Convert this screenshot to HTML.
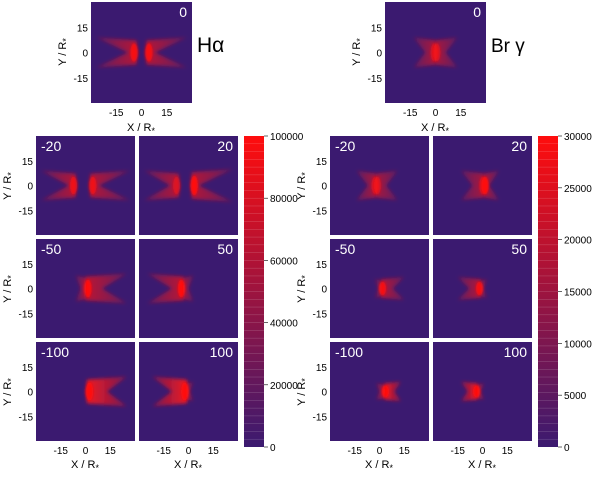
<!DOCTYPE html>
<html><head><meta charset="utf-8"><style>
html,body{margin:0;padding:0;background:#fff;width:600px;height:480px;overflow:hidden}
svg text{font-family:"Liberation Sans",sans-serif;}
</style></head><body>
<svg id="fig" width="600" height="480" xmlns="http://www.w3.org/2000/svg">
<defs id="defs">
<filter id="b3" x="-50%" y="-50%" width="200%" height="200%"><feGaussianBlur stdDeviation="1.8"/></filter>
<filter id="b1" x="-50%" y="-50%" width="200%" height="200%"><feGaussianBlur stdDeviation="1.1"/></filter>
<linearGradient id="cb" x1="0" y1="1" x2="0" y2="0">
<stop offset="0" stop-color="#3b1a70"/><stop offset="1" stop-color="#ff0d0d"/></linearGradient>
</defs>
</svg>
<script>
const NS='http://www.w3.org/2000/svg';
const svg=document.getElementById('fig');
const defs=document.getElementById('defs');
// data
const haVelocities=[0,-20,20,-50,50,-100,100];
const brVelocities=[0,-20,20,-50,50,-100,100];
const haColorTicks=[0,20000,40000,60000,80000,100000];
const brColorTicks=[0,5000,10000,15000,20000,25000,30000];
const axisTicks=[-15,0,15];
// emission lobes per panel: [baseX, tipX, notchX, halfHeight, fillIntensity, edgeIntensity]
const haShapes=[
 [[-3,-27,-8,9,0.6,0.9],[3,27,8,9,0.6,0.9]],
 [[-6,-27,-10,9,0.6,0.8],[3,27,8,9,0.6,0.8]],
 [[-6,-27,-11,9,0.6,0.6],[2,27,6,10,0.6,1]],
 [[0,25,10,9,0.65,1],[0,-6,-3,8,0.5,0]],
 [[-3,-25,-10,9,0.65,1],[-3,3,0,8,0.5,0]],
 [[1,25,13,9,0.9,1]],
 [[-1,-22,-10,9,0.9,1],[-1,3,1,6,0.5,0]]];
const brShapes=[
 [[0,-13,-6,9,0.55,0.6],[0,13,6,9,0.55,0.6]],
 [[-2,-14,-7,9,0.55,0.6],[-2,11,4,9,0.55,0.6]],
 [[1,-13,-6,9,0.55,0.6],[1,10,4,9,0.55,1]],
 [[1,15,8,7,0.6,0.9],[1,-3,-1,6,0.4,0]],
 [[-1,-15,-8,7,0.6,0.9],[-1,3,1,6,0.4,0]],
 [[3,13,9,6,0.9,1],[3,-2,0,5,0.6,0]],
 [[-3,-13,-9,6,0.9,1],[-3,1,-1,5,0.6,0]]];
const BG='#3b1a70';
let gid=0;
function el(t,a,p){const e=document.createElementNS(NS,t);for(const k in a)e.setAttribute(k,a[k]);(p||svg).appendChild(e);return e;}
function txt(x,y,s,a,p){const e=el('text',Object.assign({x:x,y:y,'font-size':11,fill:'#000'},a||{}),p);e.textContent=s;return e;}
function panel(x,y,w,h,vel,shapes,name){
  const g=el('g',{});
  
  
  const sx=v=>x+w/2+v*w/60, sy=v=>y+h/2-v*h/60;
  const cid='c'+name;
  const cp=el('clipPath',{id:cid},g);el('rect',{x:x,y:y,width:w,height:h},cp);
  el('rect',{x:x,y:y,width:w,height:h,fill:BG},g);
  const inner=el('g',{'clip-path':'url(#'+cid+')'},g);
  shapes.forEach(s=>{
    const [x0,x1,nx,H,I,E]=s;
    const id='lg'+(gid++);
    const lg=el('linearGradient',{id:id,gradientUnits:'userSpaceOnUse',x1:sx(x0),y1:0,x2:sx(x1),y2:0},defs);
    el('stop',{offset:0,'stop-color':'#ff1818','stop-opacity':I},lg);
    el('stop',{offset:1,'stop-color':'#ff1818','stop-opacity':I*0.35},lg);
    const pts=[[x0,H*0.8],[x1,H],[nx,0],[x1,-H],[x0,-H*0.8],[x0-(x1-x0)*0.04,0]];
    const lobe=el('polygon',{points:pts.map(p=>sx(p[0])+','+sy(p[1])).join(' '),fill:'url(#'+id+')',filter:'url(#b3)'},inner);
    
    
    if(E>0){
      const edge=el('ellipse',{cx:sx(x0+(x1-x0)*0.06),cy:sy(0),rx:w/60*2.2,ry:H*h/60*0.6,fill:'#ff1010','fill-opacity':E,filter:'url(#b1)'},inner);
      
      
    }
  });
  const lab=txt(0,y+15,String(vel),{fill:'#fff','font-size':14},g);
  if(vel<0){lab.setAttribute('x',x+5);}else{lab.setAttribute('x',x+w-5);lab.setAttribute('text-anchor','end');}
  
  
}
function yTicks(x,y,h){axisTicks.forEach(t=>{const e=txt(x-3,y+h/2-t*h/60+4,String(t),{'text-anchor':'end','font-size':10});
  });}
function xTicks(x,y,w){axisTicks.forEach(t=>{const e=txt(x+w/2+t*w/60,y+13,String(t),{'text-anchor':'middle','font-size':10});
  });}
function yTitle(x,y){const e=el('text',{transform:'translate('+x+','+y+') rotate(-90)','font-size':11,'text-anchor':'middle'});e.innerHTML='Y / R<tspan font-size="9" dy="3">*</tspan>';
  }
function xTitle(x,y){const e=el('text',{x:x,y:y,'font-size':11,'text-anchor':'middle'});e.innerHTML='X / R<tspan font-size="9" dy="3">*</tspan>';
  }
function colorbar(x,y,w,h,ticks,name){
  const g=el('g',{});
  
  
  el('rect',{x:x,y:y,width:w,height:h,fill:'url(#cb)'},g);
  for(let i=1;i<40;i++){el('line',{x1:x,x2:x+w,y1:y+i*h/40,y2:y+i*h/40,stroke:'#fff','stroke-opacity':0.25,'stroke-width':0.5},g);}
  const mx=ticks[ticks.length-1];
  ticks.forEach(t=>{const yy=y+h-t/mx*h;el('line',{x1:x+w,x2:x+w+4,y1:yy,y2:yy,stroke:'#000','stroke-width':0.6},g);
    const e=txt(x+w+6,yy+4,String(t),{'font-size':10},g);});
}
function side(ox,vel,shapes,ticks,line,pre,serif){
  panel(ox+91,2,101,101,vel[0],shapes[0],pre+'-top-panel');
  yTicks(ox+91,2,101);xTicks(ox+91,103,101);yTitle(ox+66,52);xTitle(ox+141,131);
  const cols=[ox+36,ox+139],rows=[136,239,342];
  for(let r=0;r<3;r++)for(let c=0;c<2;c++){
    panel(cols[c],rows[r],99,99,vel[1+r*2+c],shapes[1+r*2+c],pre+'-panel-'+vel[1+r*2+c]);
  }
  rows.forEach(r=>yTicks(ox+36,r,99));
  [186,289,392].forEach(yc=>yTitle(ox+11,yc));
  cols.forEach(c=>{xTicks(c,441,99);xTitle(c+49,468);});
  colorbar(ox+244,136,20,311,ticks,pre+'-colorbar');
  const t=el('text',{x:ox+197,y:52,'font-size':serif?21:19,'font-family':serif?'Liberation Serif, serif':'Liberation Sans, sans-serif'});t.textContent=line;
  
}
side(0,haVelocities,haShapes,haColorTicks,'Hα','halpha',true);
side(294,brVelocities,brShapes,brColorTicks,'Br γ','brgamma',false);
</script>
</body></html>
